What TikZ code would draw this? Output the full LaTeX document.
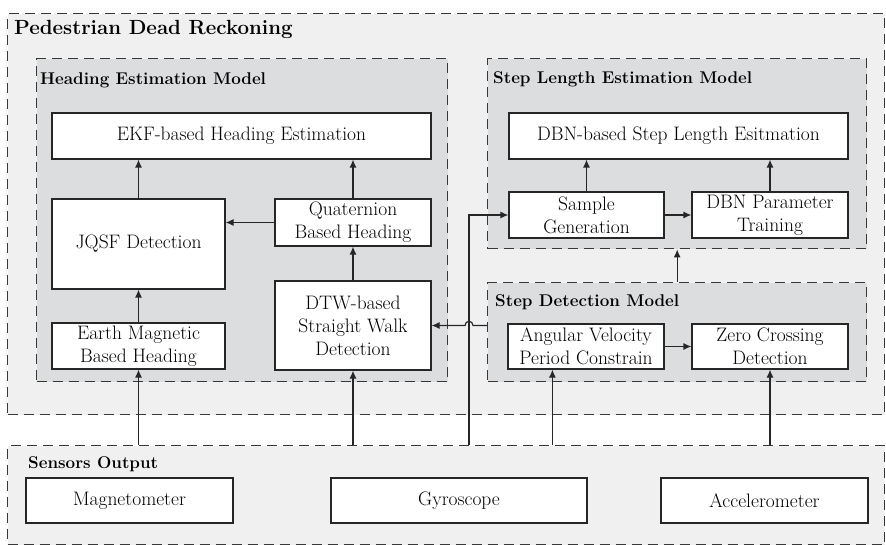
\documentclass[tikz,border=0pt]{standalone}
\usetikzlibrary{arrows.meta,calc}

\definecolor{outergray}{HTML}{F0F0F0}
\definecolor{innergray}{HTML}{DCDDDF}

\begin{document}
\begin{tikzpicture}[x=1pt,y=-1pt,>=Latex,
  every node/.style={font=\fontsize{19.5}{23}\selectfont},
  group/.style={draw=black!78,dash pattern=on 10pt off 6pt,line width=1.4pt,inner sep=0pt,anchor=north west},
  blk/.style={draw=black!85,fill=white,line width=1.2pt,inner sep=0pt,align=center},
  ttl/.style={font=\fontsize{17}{20}\selectfont\bfseries,anchor=base west,inner sep=0pt},
  arr/.style={->,line width=1.2pt,draw=black!85,>={Latex[length=8pt,width=7pt]}}]
  \fill[white] (0,0) rectangle (886,545);
  \useasboundingbox (0,0) rectangle (886,545);

  % dashed groups
  \node[group,fill=outergray,minimum width=877pt,minimum height=401pt] (pdr) at (7,13) {};
  \node[group,fill=innergray,minimum width=411pt,minimum height=323pt] (head) at (36,58) {};
  \node[group,fill=innergray,minimum width=379pt,minimum height=190pt] (slm) at (487,58) {};
  \node[group,fill=innergray,minimum width=379pt,minimum height=99pt] (sdm) at (487,282) {};
  \node[group,fill=outergray,minimum width=877pt,minimum height=99pt] (sen) at (7,445) {};

  \node[ttl,font=\fontsize{20.5}{24}\selectfont\bfseries] (pdrT) at (14,35) {Pedestrian Dead Reckoning};
  \node[ttl] (headT) at (40,85) {Heading Estimation Model};
  \node[ttl] (slmT) at (493,84) {Step Length Estimation Model};
  \node[ttl] (sdmT) at (495,307) {Step Detection Model};
  \node[ttl] (senT) at (28,468) {Sensors Output};

  % heading estimation
  \node[blk,minimum width=379pt,minimum height=46pt] (ekf) at (241.5,136) {EKF-based Heading Estimation};
  \node[blk,minimum width=173pt,minimum height=90pt] (jqsf) at (138.5,244) {JQSF Detection};
  \node[blk,minimum width=156pt,minimum height=47pt] (quat) at (353,222.5) {Quaternion\\Based Heading};
  \node[blk,minimum width=173pt,minimum height=46pt] (earth) at (138.5,346) {Earth Magnetic\\Based Heading};
  \node[blk,minimum width=156pt,minimum height=89pt] (dtw) at (353,325.5) {DTW-based\\Straight Walk\\Detection};

  % step length estimation
  \node[blk,minimum width=339pt,minimum height=46pt] (dbn) at (678.5,136) {DBN-based Step Length Esitmation};
  \node[blk,minimum width=155pt,minimum height=46pt] (sgen) at (586.5,215) {Sample\\Generation};
  \node[blk,minimum width=156pt,minimum height=46pt] (dbnp) at (770,215) {DBN Parameter\\Training};

  % step detection
  \node[blk,minimum width=156pt,minimum height=45pt] (avpc) at (586,346.5) {Angular Velocity\\Period Constrain};
  \node[blk,minimum width=156pt,minimum height=45pt] (zcd) at (770,346.5) {Zero Crossing\\Detection};

  % sensors
  \node[blk,minimum width=207pt,minimum height=45pt] (mag) at (129.5,500.5) {Magnetometer};
  \node[blk,minimum width=256pt,minimum height=45pt] (gyro) at (459,500.5) {Gyroscope};
  \node[blk,minimum width=207pt,minimum height=45pt] (acc) at (764.5,500.5) {Accelerometer};

  % connections
  \draw[arr] (earth) -- (jqsf);
  \draw[arr] (jqsf.north) -- (jqsf.north |- ekf.south);
  \draw[arr] (quat.west) -- (quat.west -| jqsf.east);
  \draw[arr] (quat.north) -- (quat.north |- ekf.south);
  \draw[arr] (dtw) -- (quat);
  \draw[arr] (sgen) -- (dbnp);
  \draw[arr] (sgen.north) -- (sgen.north |- dbn.south);
  \draw[arr] (dbnp.north) -- (dbnp.north |- dbn.south);
  \draw[arr] (sdm.north) -- (sdm.north |- slm.south);
  \draw[arr] (avpc) -- (zcd);

  \coordinate (tap) at (469,445);
  \coordinate (avin) at ($(avpc.south west)+(45,0)$);
  \coordinate (hop) at (tap |- dtw.east);
  \draw[arr] (earth.south |- sen.north) -- (earth.south);
  \draw[arr] (dtw.south |- sen.north) -- (dtw.south);
  \draw[arr] (avin |- sen.north) -- (avin);
  \draw[arr] (zcd.south |- sen.north) -- (zcd.south);
  \draw[arr] (tap) |- (sgen.west);
  \draw[arr] (sdm.west |- dtw.east) -- ($(hop)+(4,0)$)
    .. controls +(0,-5.5) and +(0,-5.5) .. ($(hop)+(-4,0)$) -- (dtw.east);
\end{tikzpicture}
\end{document}
